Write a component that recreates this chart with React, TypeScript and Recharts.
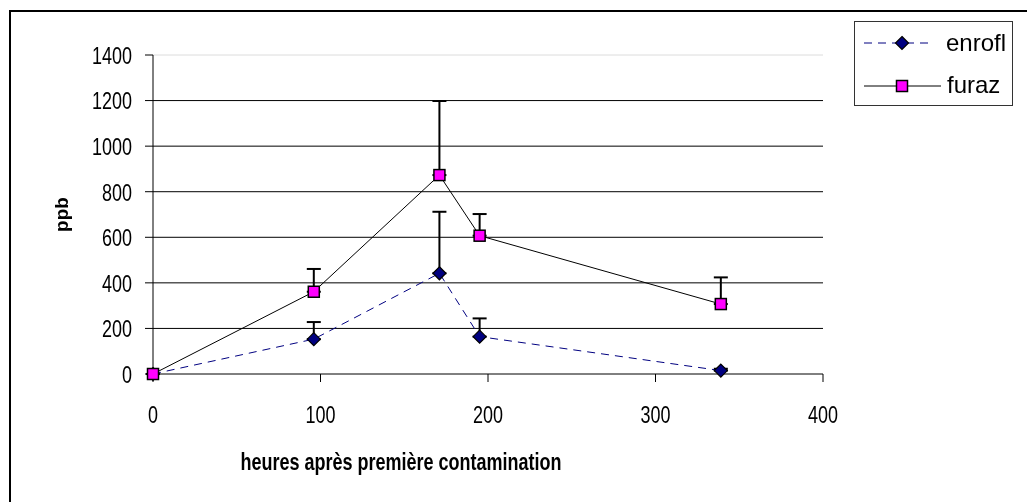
import React from "react";
import {
  LineChart,
  Line,
  XAxis,
  YAxis,
  CartesianGrid,
  ErrorBar,
  ReferenceLine,
  Legend,
  Label,
} from "recharts";

const hours = [0, 96, 171, 195, 339];
const enroflValues = [0, 153, 442, 164, 15];
const enroflErrors = [0, 75, 270, 80, 8];
const furazValues = [0, 361, 873, 607, 307];
const furazErrors = [0, 100, 325, 95, 117];
const xTicks = [0, 100, 200, 300, 400];
const yTicks = [0, 200, 400, 600, 800, 1000, 1200, 1400];
const gridValues = [200, 400, 600, 800, 1000, 1200];
const seriesNames = ["enrofl", "furaz"];
const xTitle = "heures après première contamination";
const yTitle = "ppb";

const data = hours.map((h, i) => ({
  h,
  enrofl: enroflValues[i],
  enroflErr: [0, enroflErrors[i]],
  furaz: furazValues[i],
  furazErr: [0, furazErrors[i]],
}));

const FONT = "'Liberation Sans', Arial, sans-serif";
const STRETCH = 1.35;
const NAVY = "#000080";
const MAGENTA = "#FF00FF";

const diamondPath = (cx: number, cy: number, r: number) =>
  `M${cx},${cy - r}L${cx + r},${cy}L${cx},${cy + r}L${cx - r},${cy}Z`;

const DiamondDot = (props: any) => {
  const { cx, cy, index } = props;
  if (cx == null || cy == null) return <g key={`d${index}`} />;
  return (
    <path
      key={`d${index}`}
      d={diamondPath(cx, cy, 6.5)}
      fill={NAVY}
      stroke="#000"
      strokeWidth={1.2}
    />
  );
};

const SquareDot = (props: any) => {
  const { cx, cy, index } = props;
  if (cx == null || cy == null) return <g key={`s${index}`} />;
  return (
    <rect
      key={`s${index}`}
      x={cx - 5.5}
      y={cy - 5.5}
      width={11}
      height={11}
      fill={MAGENTA}
      stroke="#000"
      strokeWidth={1.5}
    />
  );
};

const YTick = (props: any) => {
  const { x, y, payload } = props;
  return (
    <g transform={`translate(${x},${y}) scale(1,${STRETCH})`}>
      <text x={0} y={6.5} textAnchor="end" fontSize={18} fontFamily={FONT} fill="#000">
        {payload.value}
      </text>
    </g>
  );
};

const XTick = (props: any) => {
  const { x, y, payload } = props;
  return (
    <g transform={`translate(${x},${y}) scale(1,${STRETCH})`}>
      <text x={0} y={30.4} textAnchor="middle" fontSize={18} fontFamily={FONT} fill="#000">
        {payload.value}
      </text>
    </g>
  );
};

const XTitle = (props: any) => {
  const vb = props.viewBox || { x: 145, y: 366 };
  const tx = vb.x + 248;
  const ty = vb.y + 96;
  return (
    <g transform={`translate(${tx},${ty}) scale(1,${STRETCH})`}>
      <text x={0} y={0} textAnchor="middle" fontSize={18} fontWeight="bold" fontFamily={FONT} fill="#000">
        {xTitle}
      </text>
    </g>
  );
};

const YTitle = (props: any) => {
  const vb = props.viewBox || { x: 0, y: 47, width: 145, height: 319 };
  const tx = vb.x + 60;
  const ty = vb.y + vb.height / 2;
  return (
    <g transform={`translate(${tx},${ty}) rotate(-90)`}>
      <text x={0} y={0} textAnchor="middle" fontSize={19} fontWeight="bold" fontFamily={FONT} fill="#000">
        {yTitle}
      </text>
    </g>
  );
};

const LegendContent = () => (
  <div
    style={{
      width: 157,
      height: 83,
      border: "1px solid #333",
      background: "#fff",
    }}
  >
    <svg width={157} height={83} style={{ display: "block" }}>
      <line x1={9} y1={21} x2={79} y2={21} stroke={NAVY} strokeWidth={1} strokeDasharray="8 6" />
      <path d={diamondPath(47, 21, 6.5)} fill={NAVY} stroke="#000" strokeWidth={1.2} />
      <text x={91} y={29} fontSize={24} fontFamily={FONT} fill="#000">
        {seriesNames[0]}
      </text>
      <line x1={9} y1={64} x2={86} y2={64} stroke="#000" strokeWidth={1} />
      <rect x={41.5} y={58.5} width={11} height={11} fill={MAGENTA} stroke="#000" strokeWidth={1.5} />
      <text x={92} y={71} fontSize={24} fontFamily={FONT} fill="#000">
        {seriesNames[1]}
      </text>
    </svg>
  </div>
);

export default function App() {
  return (
    <div style={{ position: "relative", width: 1011, height: 486, fontFamily: FONT }}>
      <div
        style={{
          position: "fixed",
          left: 9,
          top: 10,
          right: 0,
          bottom: 0,
          borderLeft: "2px solid #000",
          borderTop: "2px solid #000",
          pointerEvents: "none",
        }}
      />
      <LineChart
        width={1011}
        height={486}
        data={data}
        margin={{ top: 47, right: 196, left: 0, bottom: 0 }}
        style={{ background: "transparent" }}
      >
        <CartesianGrid
          vertical={false}
          horizontalValues={gridValues}
          stroke="#000"
          strokeWidth={1}
        />
        <ReferenceLine y={1400} stroke="#dcdcdc" strokeWidth={1} />
        <XAxis
          type="number"
          dataKey="h"
          domain={[0, 400]}
          ticks={xTicks}
          interval={0}
          height={120}
          tickSize={8}
          tickMargin={0}
          axisLine={{ stroke: "#000", strokeWidth: 1 }}
          tickLine={{ stroke: "#000", strokeWidth: 1 }}
          tick={<XTick />}
          label={<Label content={<XTitle />} />}
        />
        <YAxis
          type="number"
          domain={[0, 1400]}
          ticks={yTicks}
          interval={0}
          width={145}
          tickSize={8}
          tickMargin={13}
          axisLine={{ stroke: "#000", strokeWidth: 1 }}
          tickLine={{ stroke: "#000", strokeWidth: 1 }}
          tick={<YTick />}
          label={<Label content={<YTitle />} />}
        />
        <Legend
          layout="vertical"
          align="center"
          verticalAlign="middle"
          content={<LegendContent />}
          wrapperStyle={{ position: "absolute", left: 846, top: 13, width: 159, height: 85 }}
        />
        <Line
          type="linear"
          dataKey="enrofl"
          name={seriesNames[0]}
          stroke={NAVY}
          strokeWidth={1}
          strokeDasharray="8 6"
          dot={DiamondDot}
          activeDot={false}
          isAnimationActive={false}
        >
          <ErrorBar dataKey="enroflErr" direction="y" width={7} stroke="#000" strokeWidth={2} />
        </Line>
        <Line
          type="linear"
          dataKey="furaz"
          name={seriesNames[1]}
          stroke="#000"
          strokeWidth={1}
          dot={SquareDot}
          activeDot={false}
          isAnimationActive={false}
        >
          <ErrorBar dataKey="furazErr" direction="y" width={7} stroke="#000" strokeWidth={2} />
        </Line>
      </LineChart>
    </div>
  );
}
